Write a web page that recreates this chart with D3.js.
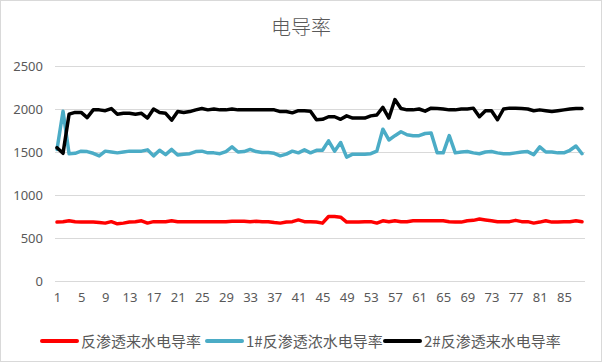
<!DOCTYPE html>
<html>
<head>
<meta charset="utf-8">
<script src="https://cdn.jsdelivr.net/npm/d3@7/dist/d3.min.js"></script>
<style>
  body { margin: 0; background: #fff; }
  text { font-family: "Noto Sans CJK SC", "Noto Sans", sans-serif; fill: #595959; }
</style>
</head>
<body>
<div id="chart"></div>
<script>
// chart data
var title = "电导率";
var seriesNames = ["反渗透来水电导率", "1#反渗透浓水电导率", "2#反渗透来水电导率"];
var seriesColors = ["#ff0000", "#4bacc6", "#000000"];
var yTicks = [0, 500, 1000, 1500, 2000, 2500];

var feedWater = [685, 690, 700, 690, 685, 685, 685, 680, 673, 690,
	665, 673, 685, 690, 700, 673, 690, 690, 690, 700,
	690, 690, 690, 690, 690, 690, 690, 690, 690, 695,
	695, 695, 690, 695, 690, 690, 680, 673, 685, 690,
	710, 690, 690, 685, 673, 750, 750, 742, 685, 685,
	685, 690, 690, 673, 700, 690, 700, 690, 690, 700,
	700, 700, 700, 700, 700, 690, 685, 685, 700, 705,
	720, 710, 700, 690, 690, 690, 705, 690, 690, 673,
	685, 700, 685, 685, 690, 690, 700, 690];

var concentrate1 = [1530, 1975, 1480, 1485, 1510, 1505, 1485, 1455, 1510, 1500,
	1490, 1500, 1510, 1510, 1510, 1525, 1455, 1520, 1470, 1530,
	1465, 1475, 1480, 1505, 1510, 1490, 1490, 1480, 1505, 1560,
	1500, 1505, 1530, 1505, 1495, 1495, 1485, 1455, 1475, 1510,
	1490, 1525, 1490, 1520, 1520, 1630, 1510, 1610, 1440, 1475,
	1475, 1475, 1480, 1510, 1765, 1640, 1690, 1735, 1700, 1690,
	1690, 1715, 1720, 1490, 1490, 1690, 1490, 1500, 1505, 1490,
	1480, 1500, 1505, 1490, 1480, 1480, 1490, 1500, 1505, 1470,
	1560, 1500, 1500, 1490, 1490, 1520, 1570, 1480];

var feedWater2 = [1550, 1485, 1940, 1960, 1960, 1900, 1990, 1990, 1980, 2005,
	1940, 1950, 1950, 1940, 1950, 1895, 2000, 1960, 1950, 1870,
	1970, 1960, 1970, 1990, 2005, 1990, 2000, 1990, 1990, 2000,
	1990, 1990, 1990, 1990, 1990, 1990, 1990, 1970, 1970, 1955,
	1980, 1980, 1975, 1875, 1880, 1910, 1910, 1880, 1920, 1895,
	1895, 1895, 1920, 1930, 2020, 1895, 2110, 2005, 1990, 1990,
	2000, 1975, 2010, 2005, 2000, 1990, 1990, 2000, 2000, 2010,
	1910, 1980, 1980, 1875, 2000, 2010, 2010, 2005, 2000, 1980,
	1990, 1980, 1970, 1980, 1990, 2000, 2005, 2005];

var allSeries = [feedWater, concentrate1, feedWater2];
var categories = d3.range(1, feedWater.length + 1);
var xTickLabels = categories.filter(function(d) { return (d - 1) % 4 == 0; });

var width = 602, height = 362;

var svg = d3.select("#chart").append("svg")
	.attr("width", width)
	.attr("height", height);

// outer border
svg.append("rect")
	.attr("x", 0.5).attr("y", 0.5)
	.attr("width", width - 1).attr("height", height - 1)
	.style("fill", "#fff")
	.style("stroke", "#d9d9d9");

var xScale = d3.scalePoint().domain(categories).range([57, 582]);
var yScale = d3.scaleLinear().domain([0, 2500]).range([281, 66]);

// title
svg.append("text")
	.attr("x", 301).attr("y", 35)
	.style("font-size", "20px")
	.style("font-weight", 300)
	.style("text-anchor", "middle")
	.text(title);

// gridlines + y labels
var yAxis = d3.axisLeft(yScale).tickValues(yTicks).tickFormat(d3.format("d"))
	.tickSize(-530).tickPadding(12);
var gy = svg.append("g").attr("transform", "translate(55,0)").call(yAxis);
gy.select(".domain").remove();
gy.selectAll("line").style("stroke", "#d9d9d9");
gy.selectAll("text")
	.style("font-size", "13px")
	.style("fill", "#595959")
	.style("font-family", "\"Noto Sans\", sans-serif");

// x labels
var xAxis = d3.axisBottom(xScale).tickValues(xTickLabels).tickSize(0).tickPadding(12);
var gx = svg.append("g").attr("transform", "translate(0,281)").call(xAxis);
gx.select(".domain").remove();
gx.selectAll("text")
	.style("font-size", "13px")
	.style("fill", "#595959")
	.style("font-family", "\"Noto Sans\", sans-serif");

// lines
var line = d3.line()
	.x(function(d, i) { return xScale(categories[i]); })
	.y(function(d) { return yScale(d); });

svg.selectAll(".series")
	.data(allSeries)
	.enter()
	.append("path")
		.attr("class", "series")
		.attr("d", line)
		.style("fill", "none")
		.style("stroke", function(d, i) { return seriesColors[i]; })
		.style("stroke-width", 3.5)
		.style("stroke-linejoin", "round")
		.style("stroke-linecap", "round");

// legend
var legendX = [42, 207, 385];
var legend = svg.selectAll(".legend")
	.data(seriesNames)
	.enter()
	.append("g")
		.attr("class", "legend")
		.attr("transform", function(d, i) { return "translate(" + legendX[i] + ",341)"; });

legend.append("line")
	.attr("x1", 0).attr("x2", 35)
	.attr("y1", 0).attr("y2", 0)
	.style("stroke", function(d, i) { return seriesColors[i]; })
	.style("stroke-width", 4)
	.style("stroke-linecap", "round");

legend.append("text")
	.attr("x", 39).attr("y", 5.5)
	.style("font-size", "15px")
	.text(function(d) { return d; });
</script>
</body>
</html>
